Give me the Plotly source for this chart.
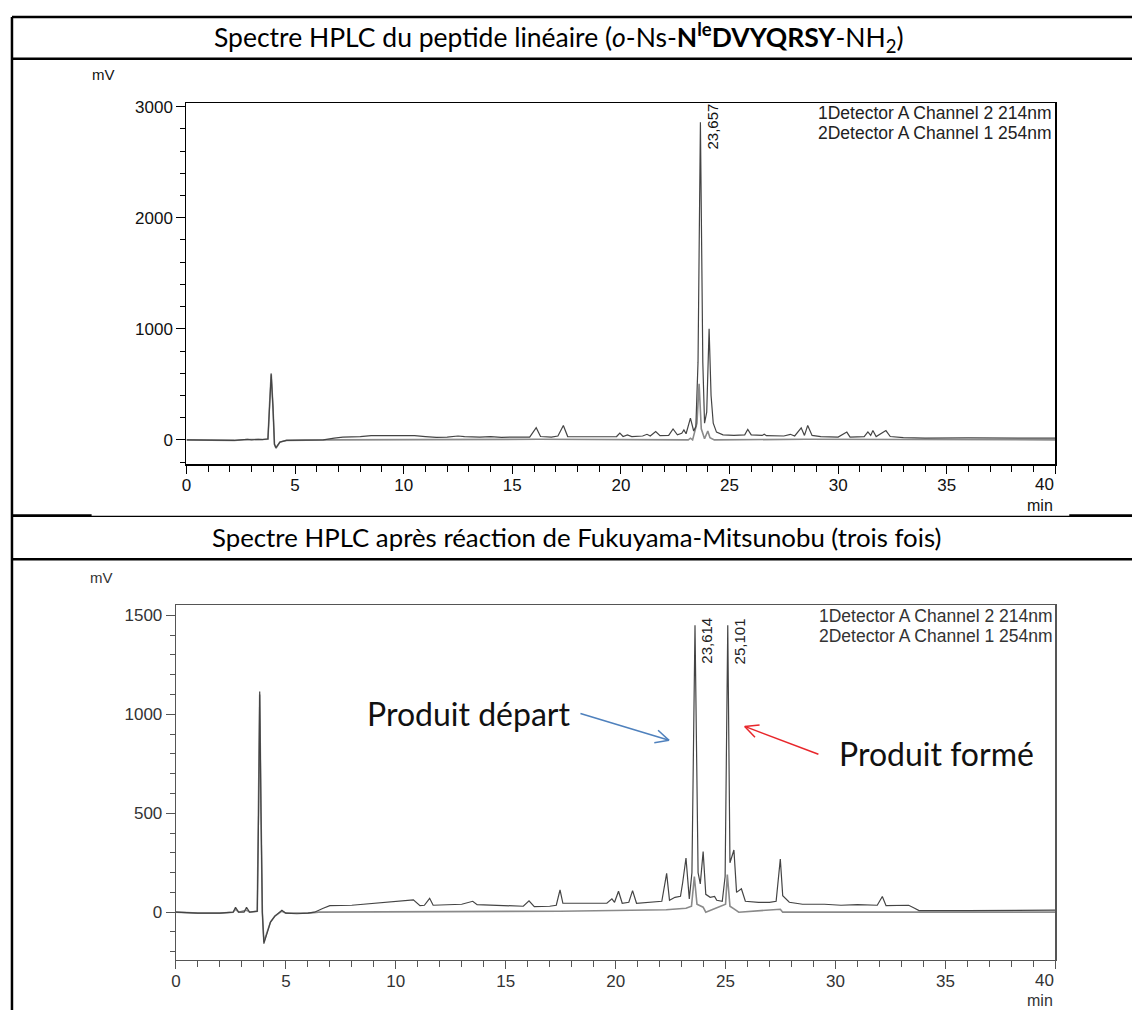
import math
import plotly.graph_objects as go

W, H = 1132, 1010

# ---------------- data ----------------
# Top chart: linear peptide
top_t_214 = [0, 0.8, 1.5, 2.2, 2.8, 3.0, 3.3, 3.5, 3.75, 3.82, 3.9, 3.98, 4.05, 4.12, 4.3, 4.6, 5.5, 6.3,
             6.8, 7.2, 8.0, 8.5, 9.5, 10.5, 11.0, 11.5, 12.0, 12.5, 12.8, 13.5, 14.0, 14.5, 15.0, 15.8,
             16.1, 16.3, 16.8, 17.1, 17.35, 17.55, 18.0, 18.5, 19.0, 19.8, 19.95, 20.1, 20.3, 20.5,
             21.0, 21.2, 21.35, 21.6, 21.8, 22.2, 22.4, 22.6, 22.8, 22.9, 23.0, 23.2, 23.35, 23.45,
             23.55, 23.66, 23.77, 23.85, 23.95, 24.06, 24.15, 24.25, 24.4, 24.7, 25.2, 25.7, 25.84,
             26.0, 26.5, 26.6, 26.7, 27.5, 27.8, 28.0, 28.3, 28.45, 28.6, 28.8, 29.2, 30.0, 30.4,
             30.55, 31.2, 31.37, 31.5, 31.6, 31.75, 32.2, 32.4, 33.0, 34.0, 36.0, 38.0, 40.0]
top_mv_214 = [0, -3, -8, -5, 5, 0, 5, 3, 10, 300, 590, 300, -40, -70, -20, -5, -3, 0,
              15, 25, 30, 38, 38, 38, 30, 22, 25, 35, 30, 25, 30, 22, 25, 25,
              110, 30, 25, 35, 130, 30, 28, 25, 28, 30, 60, 30, 45, 30,
              35, 50, 35, 75, 38, 40, 98, 45, 60, 90, 55, 195, 80, 120,
              700, 2860, 700, 150, 250, 1000, 400, 150, 70, 45, 40, 45, 95,
              45, 40, 50, 38, 35, 50, 35, 108, 40, 130, 40, 30, 25, 70,
              25, 30, 72, 40, 84, 30, 84, 30, 20, 15, 18, 15, 15]

top_t_254 = [0, 0.8, 1.5, 2.2, 2.8, 3.3, 3.75, 3.82, 3.9, 3.98, 4.05, 4.12, 4.3, 4.6, 5.5, 6.5,
             16.2, 17.35, 23.1, 23.2, 23.3, 23.5, 23.6, 23.7, 23.85, 24.0, 24.1, 24.3, 28.5, 40.0]
top_mv_254 = [0, -3, -8, -5, 3, 3, 5, 300, 600, 300, -40, -75, -20, -5, -3, 0,
              5, 5, 0, 15, 0, 150, 504, 100, 10, 80, 20, 0, 5, 0]

# Bottom chart: after Fukuyama-Mitsunobu
bot_t_214 = [0, 1.0, 2.0, 2.6, 2.71, 2.85, 3.1, 3.21, 3.35, 3.7, 3.76, 3.81, 3.87, 3.93, 4.0, 4.15,
             4.3, 4.5, 4.82, 5.0, 5.5, 6.0, 6.3, 6.7, 7.0, 8.0, 9.5, 10.5, 10.8, 11.1, 11.3, 11.54,
             11.7, 13.0, 13.5, 13.7, 15.0, 15.8, 16.06, 16.3, 17.0, 17.3, 17.47, 17.6, 18.2, 19.0,
             19.6, 19.83, 19.95, 20.13, 20.3, 20.6, 20.77, 20.95, 21.5, 22.1, 22.32, 22.45, 22.7,
             22.95, 23.05, 23.2, 23.35, 23.47, 23.61, 23.75, 23.85, 23.98, 24.1, 24.3, 24.5, 24.6,
             24.85, 24.98, 25.10, 25.2, 25.38, 25.5, 25.72, 25.9, 26.5, 27.0, 27.3, 27.49, 27.6,
             27.9, 28.5, 29.5, 30.25, 31.0, 31.9, 32.13, 32.3, 33.0, 33.33, 33.6, 33.8, 36.0, 38.0, 40.0]
bot_mv_214 = [0, -5, -5, 0, 25, 0, 0, 25, 0, 5, 500, 1115, 500, 0, -159, -100,
              -50, -20, 10, -5, -8, -5, 0, 20, 33, 35, 50, 58, 62, 33, 35, 70,
              35, 40, 55, 38, 35, 30, 57, 28, 30, 35, 113, 45, 45, 45,
              45, 67, 50, 106, 45, 50, 109, 45, 50, 55, 196, 60, 75,
              80, 150, 274, 67, 200, 1450, 200, 143, 307, 90, 75, 80, 60,
              55, 180, 1450, 250, 314, 100, 118, 55, 50, 50, 55, 269, 83,
              50, 40, 40, 35, 38, 35, 79, 33, 33, 35, 20, 8, 8, 10, 10]

bot_t_254 = [0, 1.0, 2.0, 2.6, 2.71, 2.85, 3.21, 3.35, 3.7, 3.76, 3.81, 3.87, 3.93, 4.0, 4.15, 4.3,
             4.5, 4.82, 5.0, 6.0, 6.5, 17.47, 22.3, 23.2, 23.45, 23.58, 23.7, 23.98, 24.1, 25.0,
             25.08, 25.2, 25.4, 25.6, 27.49, 27.6, 40.0]
bot_mv_254 = [0, -5, -5, 0, 15, 0, 10, 0, 5, 500, 1100, 500, 0, -150, -100, -50,
              -20, 5, -5, -5, 0, 5, 12, 20, 30, 180, 40, 25, 0, 40,
              190, 30, 15, 0, 15, 0, 0]

x_tick_vals = [0, 5, 10, 15, 20, 25, 30, 35, 40]
x_tick_text = ["0", "5", "10", "15", "20", "25", "30", "35", ""]   # "40" is drawn flush right below
x_last_label = "40"

legend_labels = ["1Detector A Channel 2 214nm", "2Detector A Channel 1 254nm"]
top_peak_labels = ["23,657"]
top_peak_times = [23.657]
bot_peak_labels = ["23,614", "25,101"]
bot_peak_times = [23.614, 25.101]

title_top = "Spectre HPLC du peptide linéaire (<i>o</i>-Ns-<b>N<sup>le</sup>DVYQRSY</b>-NH<sub>2</sub>)"
title_bot = "Spectre HPLC après réaction de Fukuyama-Mitsunobu (trois fois)"


def px(x):
    return x / W


def py(y):
    return 1 - y / H


fig = go.Figure()
fig.add_trace(go.Scatter(x=top_t_254, y=top_mv_254, mode="lines", line=dict(color="#8a8a8a", width=1.6),
                         xaxis="x", yaxis="y", hoverinfo="skip"))
fig.add_trace(go.Scatter(x=top_t_214, y=top_mv_214, mode="lines", line=dict(color="#444444", width=1.2),
                         xaxis="x", yaxis="y", hoverinfo="skip"))
fig.add_trace(go.Scatter(x=bot_t_254, y=bot_mv_254, mode="lines", line=dict(color="#8a8a8a", width=1.6),
                         xaxis="x2", yaxis="y2", hoverinfo="skip"))
fig.add_trace(go.Scatter(x=bot_t_214, y=bot_mv_214, mode="lines", line=dict(color="#444444", width=1.2),
                         xaxis="x2", yaxis="y2", hoverinfo="skip"))

sans = "Liberation Sans, Arial, sans-serif"
tickfont_top = dict(family=sans, size=17, color="#111")
tickfont_bot = dict(family=sans, size=17, color="#333")


def xaxis_cfg(domain, col, font, anchor):
    return dict(domain=domain, range=[0, 40], showline=True, linecolor=col, linewidth=1.2, mirror=True,
                ticks="outside", ticklen=8, tickwidth=1, tickcolor=col,
                tickmode="array", tickvals=x_tick_vals, ticktext=x_tick_text, ticklabelstandoff=-3,
                minor=dict(dtick=1, ticks="outside", ticklen=6, tickcolor=col, tickwidth=1),
                tickfont=font, showgrid=False, zeroline=False, anchor=anchor, fixedrange=True)


def yaxis_cfg(domain, rng, dt, mdt, col, font, anchor):
    return dict(domain=domain, range=rng, showline=True, linecolor=col, linewidth=1.2, mirror=True,
                ticks="outside", ticklen=9, tickwidth=1, tickcolor=col, tick0=0, dtick=dt,
                minor=dict(dtick=mdt, ticks="outside", ticklen=5, tickcolor=col, tickwidth=1),
                tickfont=font, showgrid=False, zeroline=False, anchor=anchor, fixedrange=True)


fig.update_layout(
    width=W, height=H, margin=dict(l=0, r=0, t=0, b=0), showlegend=False,
    paper_bgcolor="white", plot_bgcolor="white",
    xaxis=xaxis_cfg([px(182.3), px(1055)], "#000", tickfont_top, "y"),
    yaxis=yaxis_cfg([py(461.7), py(98.3)], [-221, 3035], 1000, 200, "#000", tickfont_top, "x"),
    xaxis2=xaxis_cfg([px(171.7), px(1055)], "#555", tickfont_bot, "y2"),
    yaxis2=yaxis_cfg([py(960), py(603.3)], [-243, 1551], 500, 100, "#555", tickfont_bot, "x2"),
)

ann = []
# Titles
ann.append(dict(text=title_top, x=px(556), y=py(33), xref="paper", yref="paper", showarrow=False,
                font=dict(family="Lato, sans-serif", size=26.5, color="#000"), xanchor="center", yanchor="middle"))
ann.append(dict(text=title_bot, x=px(574), y=py(535), xref="paper", yref="paper", showarrow=False,
                font=dict(family="Lato, sans-serif", size=25.8, color="#000"), xanchor="center", yanchor="middle"))
# last x tick label, flush with the axis end
for (xr, yr, c) in [("x", "y", "#111"), ("x2", "y2", "#333")]:
    ann.append(dict(text=x_last_label, x=40, y=0, xref=xr, yref=yr + " domain", showarrow=False,
                    font=dict(family=sans, size=17, color=c), xanchor="right", yanchor="top",
                    xshift=1, yshift=-9))
# axis unit labels
for (xx, yy, t, sz, c) in [(99, 70, "mV", 15, "#111"), (97, 575, "mV", 15, "#333"),
                           (1055, 503, "min", 16, "#111"), (1055, 1000, "min", 16, "#333")]:
    ann.append(dict(text=t, x=px(xx), y=py(yy), xref="paper", yref="paper", showarrow=False,
                    font=dict(family=sans, size=sz, color=c),
                    xanchor="right" if t == "min" else "center", yanchor="middle"))
# detector legends
for i, lab in enumerate(legend_labels):
    ann.append(dict(text=lab, x=px(1054), y=py(109 + 20 * i), xref="paper", yref="paper", showarrow=False,
                    font=dict(family=sans, size=17.5, color="#222"), xanchor="right", yanchor="middle"))
    ann.append(dict(text=lab, x=px(1055), y=py(614 + 20 * i), xref="paper", yref="paper", showarrow=False,
                    font=dict(family=sans, size=17.5, color="#333"), xanchor="right", yanchor="middle"))
# peak labels (vertical)
for lab, t in zip(top_peak_labels, top_peak_times):
    ann.append(dict(text=lab, x=t, y=2820, xref="x", yref="y", showarrow=False, textangle=-90,
                    font=dict(family=sans, size=15, color="#111"), xanchor="left", yanchor="middle",
                    xshift=2))
for lab, t in zip(bot_peak_labels, bot_peak_times):
    ann.append(dict(text=lab, x=t, y=1370, xref="x2", yref="y2", showarrow=False, textangle=-90,
                    font=dict(family=sans, size=15, color="#222"), xanchor="left", yanchor="middle",
                    xshift=1))
# annotation texts
ann.append(dict(text="Produit départ", x=px(466), y=py(712), xref="paper", yref="paper", showarrow=False,
                font=dict(family="Lato, sans-serif", size=32, color="#111"), xanchor="center", yanchor="middle"))
ann.append(dict(text="Produit formé", x=px(936), y=py(752), xref="paper", yref="paper", showarrow=False,
                font=dict(family="Lato, sans-serif", size=32, color="#111"), xanchor="center", yanchor="middle"))
fig.update_layout(annotations=ann)

shapes = []


def line(x0, y0, x1, y1, w, c="#000"):
    shapes.append(dict(type="line", xref="paper", yref="paper", x0=px(x0), y0=py(y0), x1=px(x1), y1=py(y1),
                       line=dict(color=c, width=w)))


# table borders
line(7, 12, W, 12, 2.5)
line(7, 54, W, 54, 2.5)
line(7, 514, W, 514, 1.3)
line(7, 513, 87, 513, 2.5)
line(1069, 513, W, 513, 2.5)
line(7, 557, W, 557, 2.5)
line(7, 12, 7, H, 2.5)


def arrow(x0, y0, x1, y1, c):
    line(x0, y0, x1, y1, 1.5, c)
    ang = math.atan2(y0 - y1, x0 - x1)
    for d in (0.45, -0.45):
        line(x1, y1, x1 + 15 * math.cos(ang + d), y1 + 15 * math.sin(ang + d), 1.5, c)


arrow(578, 712, 667, 739, "#4f81bd")
arrow(817, 753, 743, 725, "#e8262b")
fig.update_layout(shapes=shapes)

fig.write_html("out.html", config={"displayModeBar": False, "staticPlot": True},
               post_script="document.body.style.margin='0';document.body.style.padding='0';"
                           "document.documentElement.style.overflow='hidden';")
